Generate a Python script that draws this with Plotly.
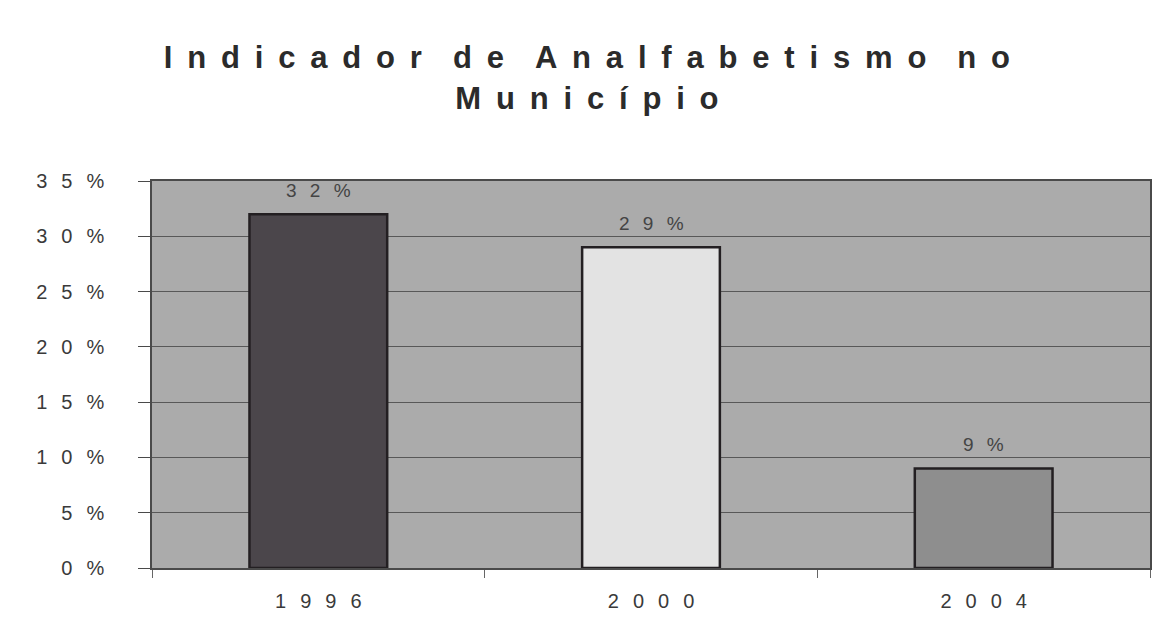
import plotly.graph_objects as go

# ---- data ----
years = ["1996", "2000", "2004"]
rates = [32, 29, 9]          # illiteracy rate, %
bar_colors = ["#4b464b", "#e3e3e3", "#8e8e8e"]
y_ticks = [0, 5, 10, 15, 20, 25, 30, 35]
title_lines = ["Indicador de Analfabetismo no", "Município"]

FONT = "Liberation Sans, Arial, sans-serif"


def spaced(s, gap, word_gap):
    # emulate the wide letter spacing of the original
    words = s.split(" ")
    return word_gap.join(gap.join(list(w)) for w in words)


title_text = "<br>".join(
    spaced(t, "\u00a0\u2009", "\u2002\u2002") for t in title_lines
)
small_gap = "\u2002\u2009"
x_text = [spaced(y, small_gap, small_gap) for y in years]
bar_text = [spaced(f"{v}%", small_gap, small_gap) for v in rates]
y_text = [spaced(f"{v}%", small_gap, small_gap) for v in y_ticks]

fig = go.Figure(
    go.Bar(
        x=years,
        y=rates,
        marker=dict(color=bar_colors, line=dict(color="#231f22", width=2.5)),
        width=0.414,
    )
)

# value labels above the bars (category index positions on the x axis)
for i, (y, t) in enumerate(zip(rates, bar_text)):
    fig.add_annotation(
        x=i, y=y, xref="x", yref="y", text=t, showarrow=False,
        yanchor="bottom", yshift=11,
        font=dict(family=FONT, size=19, color="#444444"),
    )

fig.update_layout(
    width=1151,
    height=617,
    margin=dict(l=144, r=7, t=173, b=57),
    paper_bgcolor="white",
    plot_bgcolor="#ababab",
    showlegend=False,
    title=dict(
        text=title_text,
        x=0.503,
        xanchor="center",
        y=0.902,
        yanchor="top",
        font=dict(family=FONT, size=31, color="#2b2b2b", weight="bold"),
    ),
    font=dict(family=FONT, color="#333333"),
)

fig.update_xaxes(
    type="category",
    categoryorder="array",
    categoryarray=years,
    range=[-0.5, len(years) - 0.5],
    ticktext=x_text,
    tickvals=years,
    tickangle=0,
    tickfont=dict(size=20, color="#3a3a3a"),
    ticklabelstandoff=14,
    showline=True,
    linecolor="#4a4a4a",
    linewidth=1.5,
    mirror=True,
    ticks="outside",
    tickson="boundaries",
    ticklen=8,
    tickcolor="#666666",
    showgrid=False,
)

fig.update_yaxes(
    range=[0, 35],
    tickvals=y_ticks,
    ticktext=y_text,
    tickfont=dict(size=20, color="#3a3a3a"),
    ticklabelstandoff=30,
    showline=True,
    linecolor="#4a4a4a",
    linewidth=1.5,
    mirror=True,
    ticks="outside",
    ticklen=12,
    tickcolor="#4a4a4a",
    showgrid=True,
    gridcolor="#585858",
    gridwidth=1,
    zeroline=False,
)

fig.write_html("out.html")
